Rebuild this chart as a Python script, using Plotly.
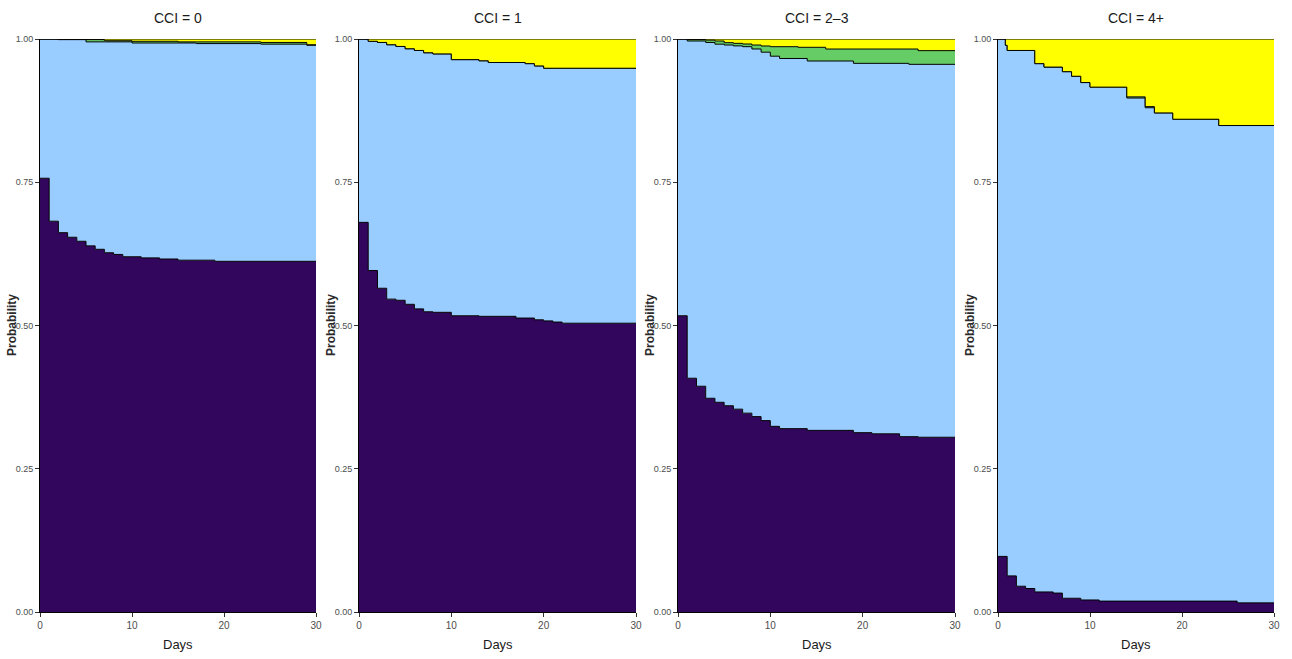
import plotly.graph_objects as go

# ---------------- data (cumulative stacked probabilities, step functions) ----------------
panel_titles = ["CCI = 0", "CCI = 1", "CCI = 2\u20133", "CCI = 4+"]
x_ticks = [0, 10, 20, 30]
y_ticks = [0.0, 0.25, 0.5, 0.75, 1.0]

# CCI = 0
p1_t_purple = [0, 1, 2, 3, 4, 5, 6, 7, 8, 9, 11, 13, 15, 19, 30]
p1_purple = [0.757, 0.682, 0.662, 0.654, 0.647, 0.639, 0.633, 0.627, 0.624, 0.620, 0.618, 0.616, 0.614, 0.612, 0.612]
p1_t_blue = [0, 2, 5, 7, 10, 15, 17, 24, 29, 30]
p1_blue = [1.0, 0.999, 0.995, 0.995, 0.993, 0.993, 0.992, 0.991, 0.989, 0.989]
p1_t_green = [0, 2, 5, 7, 10, 15, 17, 24, 29, 30]
p1_green = [1.0, 0.999, 0.999, 0.997, 0.996, 0.995, 0.995, 0.994, 0.990, 0.990]

# CCI = 1
p2_t_purple = [0, 1, 2, 3, 4, 5, 6, 7, 8, 10, 13, 17, 19, 20, 21, 22, 30]
p2_purple = [0.680, 0.596, 0.565, 0.546, 0.544, 0.537, 0.529, 0.524, 0.523, 0.517, 0.516, 0.513, 0.510, 0.508, 0.506, 0.504, 0.504]
p2_t_blue = [0, 1, 2, 3, 4, 5, 6, 7, 8, 10, 13, 14, 18, 19, 20, 30]
p2_blue = [1.0, 0.996, 0.994, 0.990, 0.987, 0.983, 0.980, 0.976, 0.974, 0.964, 0.962, 0.959, 0.957, 0.953, 0.949, 0.949]
p2_t_green = [0, 1, 2, 3, 4, 5, 6, 7, 8, 10, 13, 14, 18, 19, 20, 30]
p2_green = [1.0, 0.996, 0.994, 0.990, 0.987, 0.983, 0.980, 0.976, 0.974, 0.964, 0.962, 0.959, 0.957, 0.953, 0.949, 0.949]

# CCI = 2-3
p3_t_purple = [0, 1, 2, 3, 4, 5, 6, 7, 8, 9, 10, 11, 14, 19, 21, 24, 26, 30]
p3_purple = [0.517, 0.408, 0.394, 0.373, 0.366, 0.360, 0.354, 0.347, 0.341, 0.334, 0.324, 0.320, 0.317, 0.313, 0.311, 0.306, 0.305, 0.305]
p3_t_blue = [0, 1, 3, 4, 5, 6, 7, 8, 9, 10, 11, 14, 19, 25, 30]
p3_blue = [1.0, 0.9965, 0.994, 0.991, 0.9895, 0.988, 0.9866, 0.9826, 0.977, 0.970, 0.966, 0.9616, 0.9575, 0.9558, 0.9558]
p3_t_green = [0, 1, 3, 4, 5, 6, 7, 8, 9, 10, 13, 16, 26, 30]
p3_green = [1.0, 0.999, 0.998, 0.9965, 0.9936, 0.9924, 0.9913, 0.9895, 0.9878, 0.9866, 0.9855, 0.9825, 0.9797, 0.9797]

# CCI = 4+
p4_t_purple = [0, 1, 2, 3, 4, 6, 7, 9, 11, 26, 30]
p4_purple = [0.097, 0.063, 0.045, 0.041, 0.035, 0.033, 0.024, 0.021, 0.019, 0.016, 0.016]
p4_t_blue = [0, 0.8, 1, 4, 5, 7, 8, 9, 10, 14, 16, 17, 19, 24, 30]
p4_blue = [1.0, 0.989, 0.980, 0.957, 0.951, 0.943, 0.935, 0.924, 0.916, 0.897, 0.880, 0.871, 0.860, 0.849, 0.849]
p4_t_green = [0, 0.8, 1, 4, 5, 7, 8, 9, 10, 14, 16, 17, 19, 24, 30]
p4_green = [1.0, 0.989, 0.980, 0.957, 0.951, 0.943, 0.935, 0.924, 0.916, 0.899, 0.882, 0.871, 0.860, 0.849, 0.849]

# top boundary
t_top = [0, 30]
top = [1.0, 1.0]

# ---------------- style ----------------
C_PURPLE = "#32065c"
C_BLUE = "#99ccff"
C_GREEN = "#66cc66"
C_YELLOW = "#ffff00"
NARROW = "Liberation Sans Narrow, Arial Narrow, Liberation Sans, Arial, sans-serif"

W, H = 1292, 659
ML, MR, MT, MB = 40, 18, 39, 47
PW, PH = W - ML - MR, H - MT - MB
x_px = [(40, 316), (359, 636), (678, 955), (998, 1274)]


def px_x(p):
    return (p - ML) / PW


def px_y(p):
    return (H - MB - p) / PH


panels = [
    (p1_t_purple, p1_purple, p1_t_blue, p1_blue, p1_t_green, p1_green),
    (p2_t_purple, p2_purple, p2_t_blue, p2_blue, p2_t_green, p2_green),
    (p3_t_purple, p3_purple, p3_t_blue, p3_blue, p3_t_green, p3_green),
    (p4_t_purple, p4_purple, p4_t_blue, p4_blue, p4_t_green, p4_green),
]

fig = go.Figure()
annotations = []
layout_axes = {}

for i, (tp, vp, tb, vb, tg, vg) in enumerate(panels):
    n = "" if i == 0 else str(i + 1)
    xa, ya = "x" + n, "y" + n
    line = dict(color="black", width=1, shape="hv")
    fig.add_trace(go.Scatter(x=tp, y=vp, xaxis=xa, yaxis=ya, mode="lines", line=line,
                             fill="tozeroy", fillcolor=C_PURPLE, showlegend=False, hoverinfo="skip"))
    fig.add_trace(go.Scatter(x=tb, y=vb, xaxis=xa, yaxis=ya, mode="lines", line=line,
                             fill="tonexty", fillcolor=C_BLUE, showlegend=False, hoverinfo="skip"))
    fig.add_trace(go.Scatter(x=tg, y=vg, xaxis=xa, yaxis=ya, mode="lines", line=line,
                             fill="tonexty", fillcolor=C_GREEN, showlegend=False, hoverinfo="skip"))
    fig.add_trace(go.Scatter(x=t_top, y=top, xaxis=xa, yaxis=ya, mode="lines", line=line,
                             fill="tonexty", fillcolor=C_YELLOW, showlegend=False, hoverinfo="skip"))

    x0, x1 = x_px[i]
    layout_axes["xaxis" + n] = dict(
        domain=[px_x(x0), px_x(x1)], range=[0, 30], tickvals=x_ticks,
        ticktext=[str(v) for v in x_ticks], automargin=False,
        showgrid=False, zeroline=False, showline=True, linecolor="black", linewidth=1,
        ticks="outside", ticklen=4, tickcolor="#333333", anchor=ya,
        tickfont=dict(family=NARROW, size=10, color="#4d4d4d"), fixedrange=True)
    layout_axes["yaxis" + n] = dict(
        domain=[0, 1], range=[0, 1], tickvals=y_ticks, ticktext=["%.2f" % v for v in y_ticks],
        automargin=False,
        showgrid=False, zeroline=False, showline=True, linecolor="black", linewidth=1,
        ticks="outside", ticklen=4, tickcolor="#333333", anchor=xa,
        tickfont=dict(family=NARROW, size=9, color="#4d4d4d"), fixedrange=True)

    cx = px_x((x0 + x1) / 2)
    annotations.append(dict(text=panel_titles[i], x=cx, y=px_y(18), xref="paper", yref="paper",
                            showarrow=False, xanchor="center", yanchor="middle",
                            font=dict(family=NARROW, size=14, color="#1a1a1a")))
    annotations.append(dict(text="Days", x=cx, y=px_y(645), xref="paper", yref="paper",
                            showarrow=False, xanchor="center", yanchor="middle",
                            font=dict(family=NARROW, size=13, color="#1a1a1a")))
    annotations.append(dict(text="<b>Probability</b>", x=px_x(x0 - 28), y=px_y(325), xref="paper",
                            yref="paper", showarrow=False, xanchor="center", yanchor="middle",
                            textangle=-90,
                            font=dict(family="Liberation Sans, Arial, sans-serif", size=12,
                                      color="#2a2a2a")))

fig.update_layout(
    width=W, height=H, margin=dict(l=ML, r=MR, t=MT, b=MB, autoexpand=False),
    paper_bgcolor="white", plot_bgcolor="white",
    annotations=annotations, showlegend=False, **layout_axes)

fig.write_html("out.html")
